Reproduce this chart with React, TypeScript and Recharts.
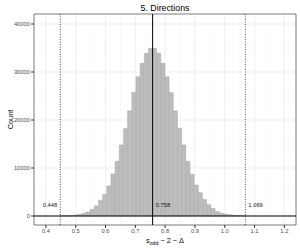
import {
  Bar,
  CartesianGrid,
  ComposedChart,
  Label,
  ReferenceArea,
  ReferenceLine,
  XAxis,
  YAxis,
} from 'recharts';

// ===== data =====
const binCenters = [
  0.457, 0.471, 0.485, 0.499, 0.513, 0.527, 0.541, 0.555, 0.569, 0.583, 0.597,
  0.611, 0.625, 0.639, 0.653, 0.667, 0.681, 0.695, 0.709, 0.723, 0.737, 0.751,
  0.765, 0.779, 0.793, 0.807, 0.821, 0.835, 0.849, 0.863, 0.877, 0.891, 0.905,
  0.919, 0.933, 0.947, 0.961, 0.975, 0.989, 1.003, 1.017, 1.031, 1.045, 1.059,
];
const binCounts = [
  40, 70, 120, 210, 350, 560, 830, 1400, 2100, 3250, 4500,
  6250, 8750, 11400, 14800, 18200, 21900, 25800, 29000, 31800, 33900, 34900,
  34900, 33900, 31800, 29000, 25700, 21900, 18300, 14800, 11400, 8700, 6450,
  4850, 3450, 2350, 1600, 970, 620, 420, 280, 170, 100, 70,
];
const xTicks = [0.4, 0.5, 0.6, 0.7, 0.8, 0.9, 1.0, 1.1, 1.2];
const xMinor = [0.45, 0.55, 0.65, 0.75, 0.85, 0.95, 1.05, 1.15];
const yTicks = [0, 10000, 20000, 30000, 40000];
const yMinor = [5000, 15000, 25000, 35000];
const lowerBound = 0.448;
const median = 0.758;
const upperBound = 1.069;
const X_DOMAIN: [number, number] = [0.36, 1.239];
const Y_DOMAIN: [number, number] = [-1875, 42080];

const data = binCenters.map((x, i) => ({ x, count: binCounts[i] }));

const FONT = '"Liberation Sans", Arial, sans-serif';
const TICK = { fontSize: 5.8, fontFamily: FONT, fill: '#4d4d4d' };

function refLabel(text: string, side: 'left' | 'right') {
  return (props: any) => {
    const vb = props.viewBox ?? {};
    const x = side === 'left' ? vb.x - 3 : vb.x + 3;
    return (
      <text
        x={x}
        y={vb.y + vb.height - 18}
        textAnchor={side === 'left' ? 'end' : 'start'}
        fontSize={5.8}
        fontFamily={FONT}
        fill="#1a1a1a"
      >
        {text}
      </text>
    );
  };
}

function XTitle(props: any) {
  const vb = props.viewBox ?? {};
  return (
    <text
      x={vb.x + vb.width / 2}
      y={vb.y + 18}
      textAnchor="middle"
      fontSize={7.3}
      fontFamily={FONT}
      fill="#000"
    >
      s
      <tspan fontSize={5.2} dy={1.8}>odd</tspan>
      <tspan dy={-1.8}>{' \u2212 2 \u2212 \u0394'}</tspan>
    </text>
  );
}

function YTitle(props: any) {
  const vb = props.viewBox ?? {};
  const cx = 10;
  const cy = vb.y + vb.height / 2;
  return (
    <text
      x={cx}
      y={cy}
      transform={`rotate(-90 ${cx} ${cy})`}
      textAnchor="middle"
      dominantBaseline="central"
      fontSize={7.3}
      fontFamily={FONT}
      fill="#000"
    >
      Count
    </text>
  );
}

export default function App() {
  return (
    <div style={{ position: 'absolute', left: 0, top: 0, width: 300, height: 250, background: '#fff' }}>
      <div
        style={{
          position: 'absolute',
          left: 34,
          width: 262,
          top: 3,
          textAlign: 'center',
          fontFamily: FONT,
          fontSize: 8.8,
          lineHeight: '10px',
          color: '#000',
        }}
      >
        5. Directions
      </div>
      <ComposedChart
        width={300}
        height={250}
        data={data}
        margin={{ top: 14, right: 4, bottom: 0, left: 0 }}
        barCategoryGap={0}
        barGap={0}
      >
        {/* minor grid first, then major */}
        <CartesianGrid
          stroke="#f3f3f3"
          strokeWidth={0.5}
          horizontalValues={yMinor}
          verticalValues={xMinor}
        />
        <CartesianGrid stroke="#ebebeb" strokeWidth={0.8} />
        <XAxis
          dataKey="x"
          type="number"
          domain={X_DOMAIN}
          ticks={xTicks}
          allowDataOverflow
          height={25}
          tick={TICK}
          tickSize={3}
          tickMargin={1}
          tickLine={{ stroke: '#333' }}
          axisLine={false}
          tickFormatter={(v: number) => v.toFixed(1)}
        >
          <Label content={XTitle} />
        </XAxis>
        <YAxis
          type="number"
          domain={Y_DOMAIN}
          ticks={yTicks}
          allowDataOverflow
          width={34}
          tick={TICK}
          tickSize={3}
          tickMargin={1}
          tickLine={{ stroke: '#333' }}
          axisLine={false}
        >
          <Label content={YTitle} />
        </YAxis>
        <Bar
          dataKey="count"
          fill="#bdbdbd"
          stroke="#9e9e9e"
          strokeWidth={0.4}
          isAnimationActive={false}
        />
        <ReferenceLine y={0} stroke="#000" strokeWidth={1} />
        <ReferenceLine
          x={lowerBound}
          stroke="#000"
          strokeWidth={0.7}
          strokeDasharray="1 1.5"
          label={refLabel(lowerBound.toFixed(3), 'left')}
        />
        <ReferenceLine
          x={median}
          stroke="#000"
          strokeWidth={1}
          label={refLabel(median.toFixed(3), 'right')}
        />
        <ReferenceLine
          x={upperBound}
          stroke="#000"
          strokeWidth={0.7}
          strokeDasharray="1 1.5"
          label={refLabel(upperBound.toFixed(3), 'right')}
        />
        <ReferenceArea
          x1={X_DOMAIN[0]}
          x2={X_DOMAIN[1]}
          y1={Y_DOMAIN[0]}
          y2={Y_DOMAIN[1]}
          fill="none"
          stroke="#666"
          strokeWidth={0.8}
        />
      </ComposedChart>
    </div>
  );
}
